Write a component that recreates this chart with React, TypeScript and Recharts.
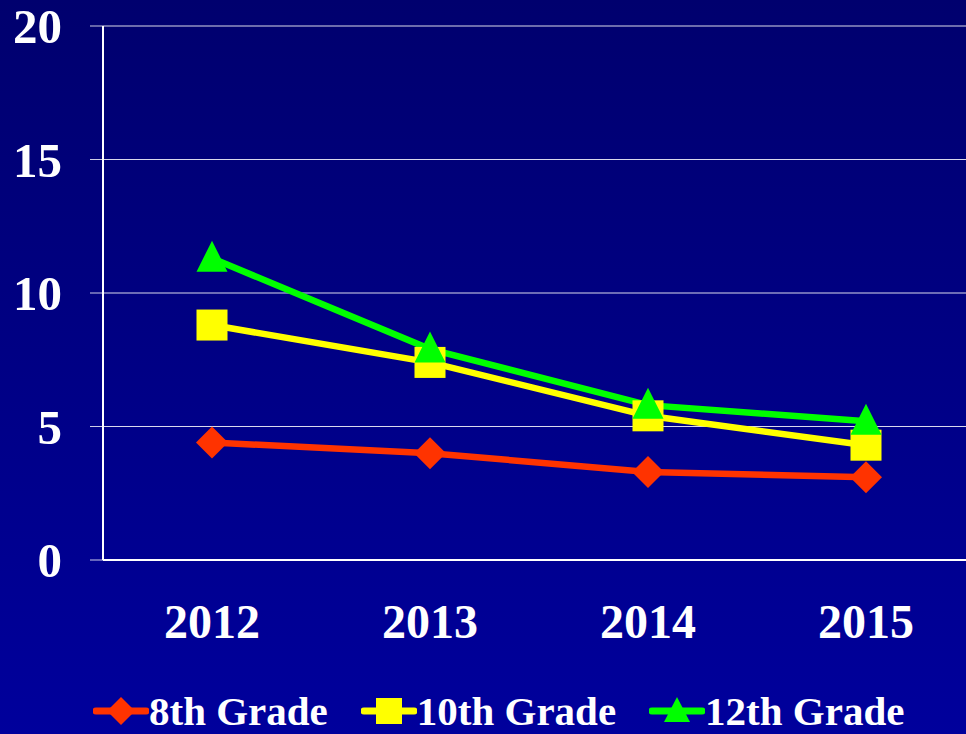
import React from 'react';
import { LineChart, Line, XAxis, YAxis, CartesianGrid, Legend } from 'recharts';

const years = ['2012', '2013', '2014', '2015'];
const grade8 = [4.4, 4.0, 3.3, 3.1];
const grade10 = [8.8, 7.4, 5.4, 4.3];
const grade12 = [11.3, 7.9, 5.8, 5.2];
const yTicks = [0, 5, 10, 15, 20];
const seriesNames = ['8th Grade', '10th Grade', '12th Grade'];

const data = years.map((y, i) => ({ year: y, g8: grade8[i], g10: grade10[i], g12: grade12[i] }));

const FONT = '"Liberation Serif", "Times New Roman", serif';
const RED = '#FF3300';
const YEL = '#FFFF00';
const GRN = '#00FF00';

const Diamond = (props: any) => {
  const { cx, cy } = props;
  if (cx == null || cy == null) return null;
  const r = 16;
  return <polygon points={`${cx},${cy - r} ${cx + r},${cy} ${cx},${cy + r} ${cx - r},${cy}`} fill={RED} />;
};
const Square = (props: any) => {
  const { cx, cy } = props;
  if (cx == null || cy == null) return null;
  const r = 15.5;
  return <rect x={cx - r} y={cy - r} width={2 * r} height={2 * r} fill={YEL} />;
};
const Triangle = (props: any) => {
  const { cx, cy } = props;
  if (cx == null || cy == null) return null;
  const r = 15.5;
  return <polygon points={`${cx},${cy - r - 2} ${cx + r},${cy + r - 2} ${cx - r},${cy + r - 2}`} fill={GRN} />;
};

const LegendIcon = ({ kind, color }: { kind: string; color: string }) => (
  <svg width={56} height={34} style={{ display: 'block' }}>
    <line x1={3} y1={17} x2={53} y2={17} stroke={color} strokeWidth={7} strokeLinecap="round" />
    {kind === 'diamond' && <polygon points="28,3 42,17 28,31 14,17" fill={color} />}
    {kind === 'square' && <rect x={15} y={4} width={26} height={26} fill={color} />}
    {kind === 'triangle' && <polygon points="28,3 41,28 15,28" fill={color} />}
  </svg>
);

const renderLegend = () => {
  const items = [
    { name: seriesNames[0], kind: 'diamond', color: RED },
    { name: seriesNames[1], kind: 'square', color: YEL },
    { name: seriesNames[2], kind: 'triangle', color: GRN },
  ];
  return (
    <div style={{ display: 'flex', alignItems: 'center', paddingLeft: 93, boxSizing: 'border-box', paddingTop: 3, height: 50 }}>
      {items.map((it) => (
        <div key={it.name} style={{ display: 'flex', alignItems: 'center', marginRight: 33 }}>
          <LegendIcon kind={it.kind} color={it.color} />
          <span style={{ color: '#fff', fontFamily: FONT, fontWeight: 'bold', fontSize: 41, lineHeight: '36px' }}>
            {it.name}
          </span>
        </div>
      ))}
    </div>
  );
};

export default function App() {
  return (
    <div
      style={{
        position: 'fixed',
        left: 0,
        top: 0,
        width: 966,
        height: 734,
        overflow: 'hidden',
        background: 'linear-gradient(to bottom, #00006E, #00009C)',
      }}
    >
      <LineChart width={975} height={734} data={data} margin={{ top: 26, right: 0, bottom: 0, left: 0 }}>
        <CartesianGrid horizontal vertical={false} stroke="#ffffff" strokeOpacity={0.85} strokeWidth={1.2} />
        <XAxis
          dataKey="year"
          scale="band"
          height={124}
          tickLine={false}
          tickSize={0}
          tickMargin={44}
          axisLine={{ stroke: '#ffffff', strokeWidth: 2 }}
          tick={{ fill: '#ffffff', fontFamily: FONT, fontWeight: 'bold', fontSize: 48 }}
        />
        <YAxis
          width={103}
          domain={[0, 20]}
          ticks={yTicks}
          interval={0}
          tickSize={13}
          tickMargin={28}
          tickLine={{ stroke: '#ffffff', strokeOpacity: 0.8 }}
          axisLine={{ stroke: '#ffffff', strokeWidth: 2 }}
          tick={{ fill: '#ffffff', fontFamily: FONT, fontWeight: 'bold', fontSize: 49 }}
        />
        <Legend verticalAlign="bottom" height={50} content={renderLegend} />
        <Line dataKey="g8" name={seriesNames[0]} stroke={RED} strokeWidth={6.5} dot={<Diamond />} activeDot={false} isAnimationActive={false} />
        <Line dataKey="g10" name={seriesNames[1]} stroke={YEL} strokeWidth={6.5} dot={<Square />} activeDot={false} isAnimationActive={false} />
        <Line dataKey="g12" name={seriesNames[2]} stroke={GRN} strokeWidth={6.5} dot={<Triangle />} activeDot={false} isAnimationActive={false} />
      </LineChart>
    </div>
  );
}
